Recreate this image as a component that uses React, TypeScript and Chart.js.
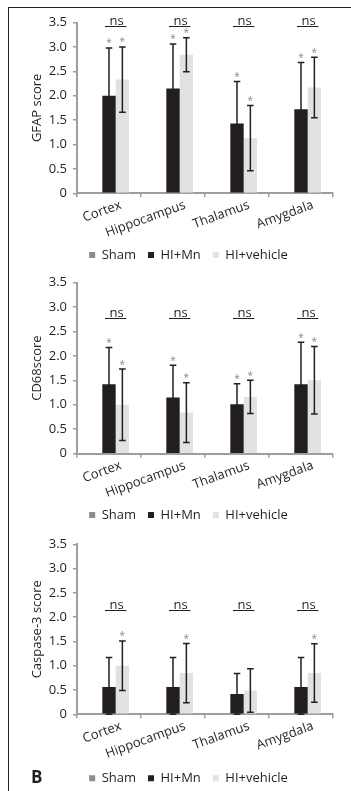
import React, { useEffect, useRef } from 'react';
import { Chart, registerables } from 'chart.js';

Chart.register(...registerables);

// ---------- data ----------
const categories = ['Cortex', 'Hippocampus', 'Thalamus', 'Amygdala'];
const seriesNames = ['Sham', 'HI+Mn', 'HI+vehicle'];
const yMin = 0;
const yMax = 3.5;
const yStep = 0.5;
const nsText = 'ns';

const gfapSham = [0, 0, 0, 0];
const gfapMn = [2.0, 2.15, 1.43, 1.72];
const gfapMnErr = [0.98, 0.91, 0.86, 0.96];
const gfapVeh = [2.33, 2.84, 1.13, 2.17];
const gfapVehErr = [0.67, 0.35, 0.67, 0.62];
const gfapMnStars = [true, true, true, true];
const gfapVehStars = [true, true, true, true];

const cd68Sham = [0, 0, 0, 0];
const cd68Mn = [1.42, 1.15, 1.01, 1.42];
const cd68MnErr = [0.75, 0.66, 0.42, 0.86];
const cd68Veh = [1.0, 0.84, 1.16, 1.5];
const cd68VehErr = [0.73, 0.61, 0.34, 0.69];
const cd68MnStars = [true, true, true, true];
const cd68VehStars = [true, true, true, true];

const caspSham = [0, 0, 0, 0];
const caspMn = [0.56, 0.56, 0.42, 0.56];
const caspMnErr = [0.61, 0.61, 0.42, 0.61];
const caspVeh = [1.0, 0.85, 0.49, 0.85];
const caspVehErr = [0.51, 0.61, 0.45, 0.6];
const caspMnStars = [false, false, false, false];
const caspVehStars = [true, true, false, true];

const yTitles = ['GFAP score', 'CD68score', 'Caspase-3 score'];
const nsLevels = [3.42, 2.78, 2.15];

// ---------- style ----------
const FONT = "'Open Sans', 'DejaVu Sans', sans-serif";
const TEXT = '#231f20';
const AXIS = '#9e9e9e';
const DARK = '#231f20';
const LIGHT = '#e1e2e4';
const SHAM = '#8c8c8c';
const STAR = '#8a8a8a';

const W = 377;
const H = 290;
const PLOT_LEFT = 77;
const PLOT_RIGHT = 333;
const LEGEND_PAD = 12;
const LEGEND_FONT = 13;

const panels = [
  { title: yTitles[0], sham: gfapSham, mn: gfapMn, mnErr: gfapMnErr, veh: gfapVeh, vehErr: gfapVehErr, mnStars: gfapMnStars, vehStars: gfapVehStars, ns: nsLevels[0], top: 0, plotTop: 22.5, plotBottom: 193.3, legendCenter: 255 },
  { title: yTitles[1], sham: cd68Sham, mn: cd68Mn, mnErr: cd68MnErr, veh: cd68Veh, vehErr: cd68VehErr, mnStars: cd68MnStars, vehStars: cd68VehStars, ns: nsLevels[1], top: 260, plotTop: 282.5, plotBottom: 453.7, legendCenter: 515 },
  { title: yTitles[2], sham: caspSham, mn: caspMn, mnErr: caspMnErr, veh: caspVeh, vehErr: caspVehErr, mnStars: caspMnStars, vehStars: caspVehStars, ns: nsLevels[2], top: 522, plotTop: 544.3, plotBottom: 714.3, legendCenter: 778.3 },
];

const annotPlugin = {
  id: 'annot',
  afterDatasetsDraw(chart: any, _args: any, opts: any) {
    const { ctx } = chart;
    const y = chart.scales.y;
    ctx.save();
    chart.data.datasets.forEach((ds: any, di: number) => {
      if (!ds.errors) return;
      const meta = chart.getDatasetMeta(di);
      meta.data.forEach((bar: any, j: number) => {
        const v = ds.data[j];
        const e = ds.errors[j];
        const yTop = y.getPixelForValue(v + e);
        const yBot = y.getPixelForValue(Math.max(0, v - e));
        const x = bar.x;
        ctx.strokeStyle = TEXT;
        ctx.lineWidth = 1.5;
        ctx.beginPath();
        ctx.moveTo(x, yTop);
        ctx.lineTo(x, yBot);
        ctx.moveTo(x - 3.3, yTop);
        ctx.lineTo(x + 3.3, yTop);
        ctx.moveTo(x - 3.3, yBot);
        ctx.lineTo(x + 3.3, yBot);
        ctx.stroke();
        if (ds.stars && ds.stars[j]) {
          ctx.fillStyle = STAR;
          ctx.font = `10px ${FONT}`;
          ctx.textAlign = 'center';
          ctx.textBaseline = 'alphabetic';
          ctx.fillText('*', x, yTop - 1.5);
        }
      });
    });
    const mnMeta = chart.getDatasetMeta(1);
    const vehMeta = chart.getDatasetMeta(2);
    const ly = Math.round(y.getPixelForValue(opts.level)) + 0.5;
    for (let j = 0; j < mnMeta.data.length; j++) {
      const a: any = mnMeta.data[j];
      const b: any = vehMeta.data[j];
      const x1 = a.x - a.width / 2 + 2.7;
      const x2 = b.x + b.width / 2 - 2.7;
      ctx.strokeStyle = TEXT;
      ctx.lineWidth = 1;
      ctx.beginPath();
      ctx.moveTo(x1, ly);
      ctx.lineTo(x2, ly);
      ctx.stroke();
      ctx.fillStyle = TEXT;
      ctx.font = `13px ${FONT}`;
      ctx.textAlign = 'center';
      ctx.textBaseline = 'alphabetic';
      ctx.fillText(opts.text, (x1 + x2) / 2 + 0.8, ly - 1.5);
    }
    ctx.restore();
  },
};

function Panel({ p }: { p: any }) {
  const ref = useRef<HTMLCanvasElement | null>(null);
  useEffect(() => {
    if (!ref.current) return;
    const padTop = p.plotTop - p.top;
    const legendH = LEGEND_FONT + LEGEND_PAD + 10;
    const legendTop = p.legendCenter - LEGEND_PAD - LEGEND_FONT / 2;
    const xAxisH = legendTop - p.plotBottom;
    const padBottom = H - (p.plotBottom - p.top) - xAxisH - legendH;
    const chart = new Chart(ref.current, {
      type: 'bar',
      data: {
        labels: categories,
        datasets: [
          { label: seriesNames[0], data: p.sham, backgroundColor: SHAM, borderWidth: 0 },
          { label: seriesNames[1], data: p.mn, backgroundColor: DARK, borderWidth: 0, errors: p.mnErr, stars: p.mnStars } as any,
          { label: seriesNames[2], data: p.veh, backgroundColor: LIGHT, borderWidth: 0, errors: p.vehErr, stars: p.vehStars } as any,
        ],
      },
      options: {
        responsive: false,
        animation: false,
        devicePixelRatio: 1,
        datasets: { bar: { categoryPercentage: 0.627, barPercentage: 1.0 } },
        layout: { padding: { top: padTop, bottom: padBottom, left: 0, right: 0 } },
        plugins: {
          legend: {
            display: true,
            position: 'bottom',
            labels: {
              font: { family: FONT, size: LEGEND_FONT },
              color: TEXT,
              boxWidth: 6,
              boxHeight: 6,
              padding: LEGEND_PAD,
            },
          },
          tooltip: { enabled: false },
          annot: { level: p.ns, text: nsText },
        } as any,
        scales: {
          x: {
            grid: { display: true, drawOnChartArea: false, drawTicks: true, tickLength: 4, color: AXIS, lineWidth: 1.5, offset: true },
            border: { display: true, color: AXIS, width: 2 },
            ticks: {
              font: { family: FONT, size: 13 },
              color: TEXT,
              minRotation: 20,
              maxRotation: 20,
              padding: 0,
              labelOffset: 12,
              autoSkip: false,
            },
            afterFit: (s: any) => { s.height = xAxisH; },
          },
          y: {
            min: yMin,
            max: yMax,
            ticks: {
              stepSize: yStep,
              font: { family: FONT, size: 13 },
              color: TEXT,
              padding: 6,
              callback: (v: any) => (Number(v) === 0 ? '0' : Number(v).toFixed(1)),
            },
            grid: { drawOnChartArea: false, drawTicks: true, tickLength: 4, color: AXIS, lineWidth: 1.5 },
            border: { display: true, color: AXIS, width: 2 },
            title: {
              display: true,
              text: p.title,
              font: { family: FONT, size: 13 },
              color: TEXT,
              padding: { top: 29, bottom: 0 },
            },
            afterFit: (s: any) => { s.width = PLOT_LEFT; },
          },
          y2: {
            position: 'right',
            display: true,
            grid: { display: false },
            border: { display: false },
            ticks: { display: false },
            afterFit: (s: any) => { s.width = W - PLOT_RIGHT; },
          },
        },
      } as any,
      plugins: [annotPlugin],
    });
    return () => chart.destroy();
  }, [p]);
  return (
    <canvas
      ref={ref}
      width={W}
      height={H}
      style={{ position: 'absolute', left: 0, top: p.top, width: W, height: H }}
    />
  );
}

export default function App() {
  return (
    <div style={{ position: 'absolute', left: 0, top: 0, width: 351, height: 791, overflow: 'hidden', background: '#fff' }}>
      <div style={{ position: 'absolute', left: 8, top: 7, width: 400, height: 800, borderTop: `1.5px solid ${TEXT}`, borderLeft: `1.5px solid ${TEXT}` }} />
      {panels.map((p, i) => (
        <Panel key={i} p={p} />
      ))}
      <div style={{ position: 'absolute', left: 31, top: 768, fontFamily: FONT, fontWeight: 700, fontSize: 17, lineHeight: '17px', color: TEXT }}>B</div>
    </div>
  );
}
